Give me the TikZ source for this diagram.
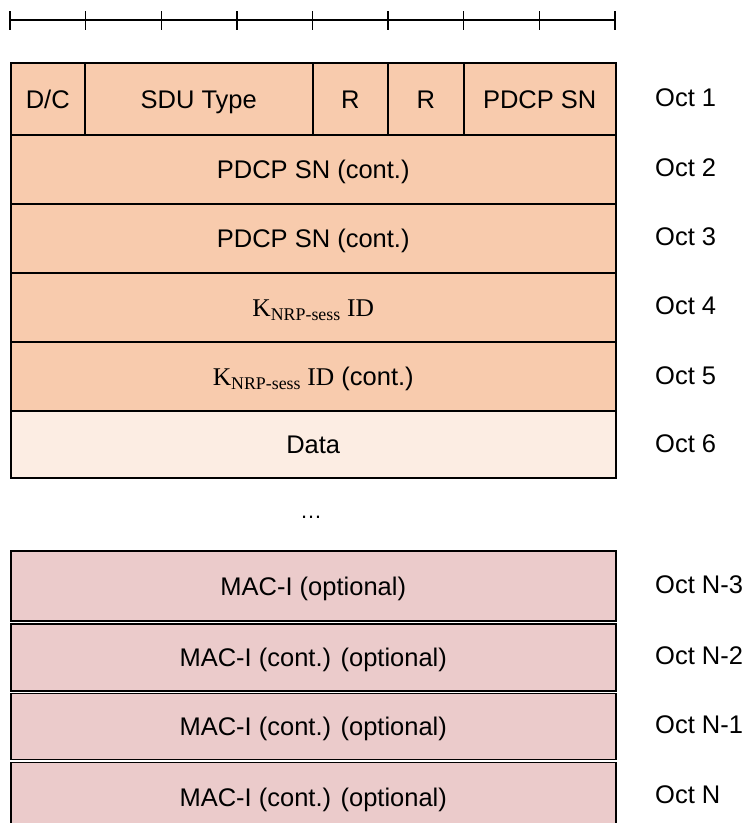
\documentclass[tikz,border=0pt]{standalone}
\usepackage{fontspec}
\setmainfont{Liberation Sans}
\newfontfamily\serifk{Liberation Serif}
\usetikzlibrary{positioning}
\definecolor{hdr}{HTML}{F8CBAD}
\definecolor{dat}{HTML}{FCEDE3}
\definecolor{mac}{HTML}{EBCBCB}
\tikzset{
  cell/.style={draw=black, line width=1.5pt, fill=hdr, anchor=north west, inner sep=0pt,
    text height=19pt, text depth=0pt, font=\fontsize{25.5}{30}\selectfont},
  datcell/.style={cell, fill=dat},
  maccell/.style={cell, fill=mac},
  oct/.style={anchor=west, inner sep=0pt, font=\fontsize{25.5}{30}\selectfont},
  tick/.style={draw=black, line width=1.3pt}
}
\newcommand{\knrp}{{\serifk K\textsubscript{NRP-sess} ID}}

\begin{document}
\begin{tikzpicture}[x=1pt, y=-1pt]
  \useasboundingbox (0,0) rectangle (748,823);
  % ruler
  \draw[tick] (10,20) -- (615,20);
  \foreach \i in {0,...,8}
    \draw[tick] ({10+\i*75.625},11) -- ({10+\i*75.625},30);
  % octet 1
  \node[cell, minimum width=74pt, minimum height=72pt] (dc) at (10,62) {D/C};
  \node[cell, minimum width=228pt, minimum height=72pt] (sdu) at (84,62) {SDU Type};
  \node[cell, minimum width=75pt, minimum height=72pt] (r1) at (312,62) {R};
  \node[cell, minimum width=76pt, minimum height=72pt] (r2) at (387,62) {R};
  \node[cell, minimum width=152pt, minimum height=72pt] (sn) at (463,62) {PDCP SN};
  % octets 2 to 6
  \node[cell, minimum width=605pt, minimum height=69pt] (sn2) at (10,134) {PDCP SN (cont.)};
  \node[cell, minimum width=605pt, minimum height=69pt] (sn3) at (10,203) {PDCP SN (cont.)};
  \node[cell, minimum width=605pt, minimum height=69pt] (kid) at (10,272) {\knrp};
  \node[cell, minimum width=605pt, minimum height=69pt] (kid2) at (10,341) {\knrp{} (cont.)};
  \node[datcell, minimum width=605pt, minimum height=67pt] (data) at (10,410) {Data};
  \node[font=\fontsize{22}{26}\selectfont] (dots) at (311,517) {\dots};
  % MAC-I
  \node[maccell, minimum width=605pt, minimum height=70pt] (mac1) at (10,550) {MAC-I (optional)};
  \node[maccell, minimum width=605pt, minimum height=67pt] (mac2) at (10,623) {MAC-I (cont.) (optional)};
  \node[maccell, minimum width=605pt, minimum height=66pt] (mac3) at (10,692.5) {MAC-I (cont.) (optional)};
  \node[maccell, minimum width=605pt, minimum height=70pt] (mac4) at (10,761.5) {MAC-I (cont.) (optional)};
  % octet labels
  \node[oct] (o1) at (655,98) {Oct 1};
  \node[oct] (o2) at (655,168) {Oct 2};
  \node[oct] (o3) at (655,237) {Oct 3};
  \node[oct] (o4) at (655,306) {Oct 4};
  \node[oct] (o5) at (655,376) {Oct 5};
  \node[oct] (o6) at (655,444) {Oct 6};
  \node[oct] (on3) at (655,585) {Oct N-3};
  \node[oct] (on2) at (655,656) {Oct N-2};
  \node[oct] (on1) at (655,725) {Oct N-1};
  \node[oct] (on) at (655,795) {Oct N};
\end{tikzpicture}
\end{document}
